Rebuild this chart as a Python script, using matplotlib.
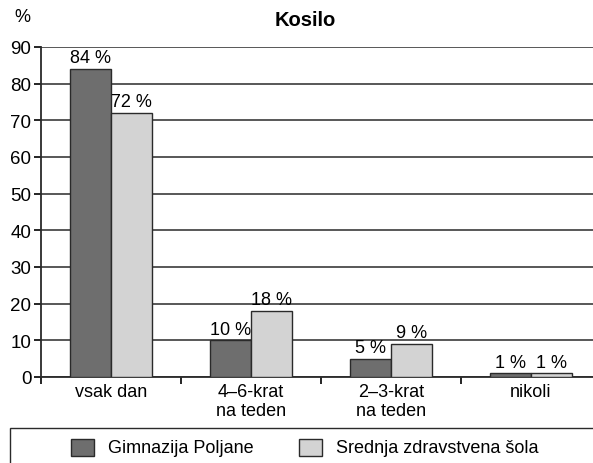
import matplotlib
matplotlib.use("Agg")
import matplotlib.pyplot as plt
import numpy as np
from matplotlib.patches import Rectangle

plt.rcParams['font.family'] = ['Liberation Sans', 'DejaVu Sans']

categories = ['vsak dan', '4–6-krat\nna teden', '2–3-krat\nna teden', 'nikoli']
gimnazija = [84, 10, 5, 1]
zdravstvena = [72, 18, 9, 1]
series_names = ['Gimnazija Poljane', 'Srednja zdravstvena šola']

dark = '#6e6e6e'
light = '#d3d3d3'
edge = '#2a2a2a'
fs = 13

fig = plt.figure(figsize=(5.93, 4.64), dpi=100)
ax = fig.add_axes([41/593, 86/464, 552/593, 330/464])

x = np.arange(len(categories))
w = 0.295
b1 = ax.bar(x - w/2, gimnazija, w, color=dark, edgecolor=edge, linewidth=1, zorder=3)
b2 = ax.bar(x + w/2, zdravstvena, w, color=light, edgecolor=edge, linewidth=1, zorder=3)

for rects, vals in [(b1, gimnazija), (b2, zdravstvena)]:
    for r, v in zip(rects, vals):
        ax.text(r.get_x() + r.get_width()/2, v + 0.7, f'{v} %', ha='center', va='bottom', fontsize=fs)

ax.set_ylim(0, 90)
ax.set_xlim(-0.5, 3.5 - 8/140)
ax.set_yticks(range(0, 91, 10))
ax.yaxis.grid(True, color='#4a4a4a', linewidth=1.3, zorder=0)
ax.set_axisbelow(True)
for s in ['top', 'right']:
    ax.spines[s].set_visible(False)
ax.spines['left'].set_linewidth(1.3)
ax.spines['bottom'].set_linewidth(1.3)
ax.spines['left'].set_color('#2a2a2a')
ax.spines['bottom'].set_color('#2a2a2a')

ax.set_xticks(x)
ax.set_xticklabels(categories, fontsize=fs, linespacing=1.2)
ax.tick_params(axis='x', length=0, pad=4)
ax.set_xticks(np.arange(-0.5, 3.0, 1.0), minor=True)
ax.tick_params(axis='x', which='minor', length=5, width=1.2, direction='out')
ax.tick_params(axis='y', labelsize=fs + 0.5, length=5, width=1.2, pad=2)

fig.text(14/593, 1 - 18/464, '%', fontsize=fs, ha='left', va='center')
fig.text(305/593, 1 - 20/464, 'Kosilo', fontsize=fs + 1.5, fontweight='bold', ha='center', va='center')

# legend box
fig.patches.append(Rectangle((10/593, -0.05), 600/593, (464 - 429)/464 + 0.05,
                             transform=fig.transFigure, fill=False, edgecolor='#2a2a2a', linewidth=1))
for px, col, name in [(71, dark, series_names[0]), (299, light, series_names[1])]:
    fig.patches.append(Rectangle((px/593, 1 - 457/464), 23/593, 17/464, transform=fig.transFigure,
                                 facecolor=col, edgecolor=edge, linewidth=1))
    fig.text((px + 37)/593, 1 - 449/464, name, fontsize=fs, ha='left', va='center')

fig.savefig('out.png', dpi=100)
